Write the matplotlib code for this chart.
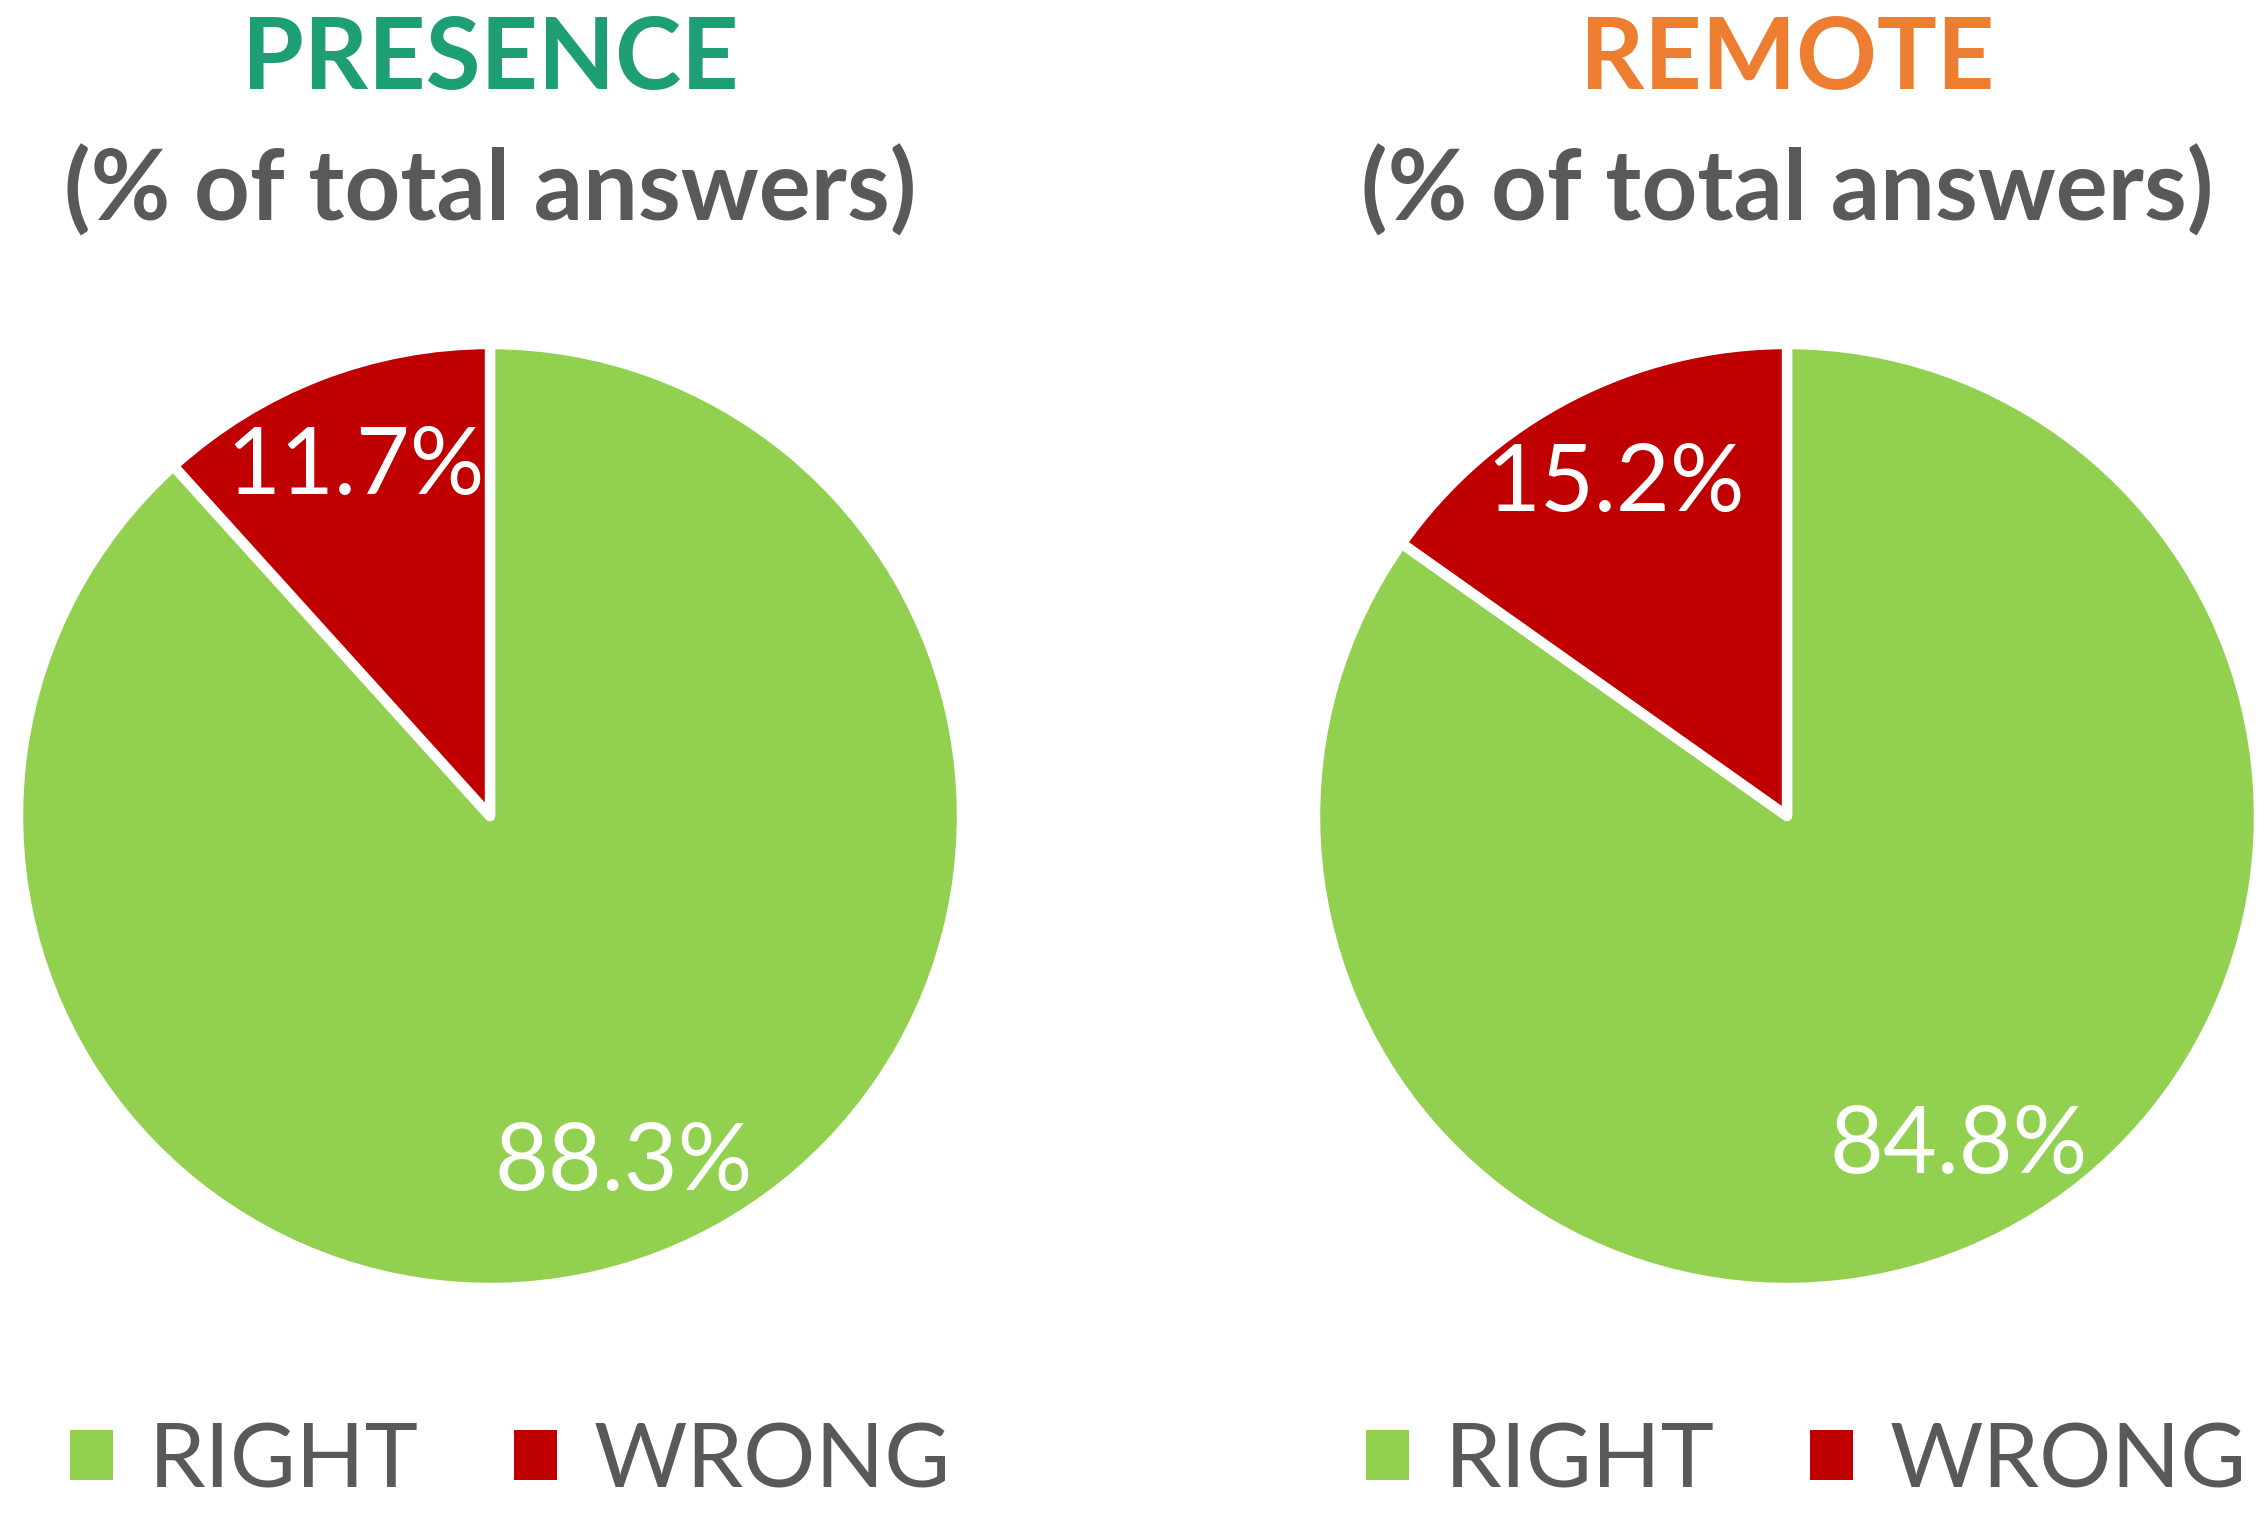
"""Two pie charts: right vs wrong answers, presence vs remote."""
import matplotlib
matplotlib.use("Agg")
import matplotlib.pyplot as plt
from matplotlib.patches import Patch

plt.rcParams["font.family"] = ["Lato", "DejaVu Sans"]

groups = ["PRESENCE", "REMOTE"]
group_colors = ["#1D9E75", "#ED7D31"]
categories = ["RIGHT", "WRONG"]
cat_colors = ["#92D050", "#C00000"]
values = {
    "PRESENCE": [88.3, 11.7],
    "REMOTE": [84.8, 15.2],
}
subtitle = "(% of total answers)"
GRAY = "#595959"

W, H, DPI = 2266, 1514, 100
fig = plt.figure(figsize=(W / DPI, H / DPI), dpi=DPI)

centres = [(490, 816), (1787, 816)]
radius = 472
legend_x = [510, 1806]

for i, g in enumerate(groups):
    cx, cy = centres[i]
    ax = fig.add_axes([(cx - radius) / W, 1 - (cy + radius) / H,
                       2 * radius / W, 2 * radius / H])
    wedges, _, autotexts = ax.pie(
        values[g], colors=cat_colors, startangle=90, counterclock=False,
        autopct="%.1f%%", pctdistance=0.79,
        wedgeprops=dict(edgecolor="white", linewidth=7.5, joinstyle="round"),
        textprops=dict(color="white", fontsize=67))
    ax.set_xlim(-1, 1); ax.set_ylim(-1, 1)
    ax.set_aspect("equal")

    fig.text(cx / W, 1 - 60 / H, g, ha="center", va="center",
             fontsize=72, fontweight="bold", color=group_colors[i])
    fig.text(cx / W, 1 - 190 / H, subtitle, ha="center", va="center",
             fontsize=70, fontweight="bold", color=GRAY)

    handles = [Patch(facecolor=c, edgecolor="none") for c in cat_colors]
    fig.legend(handles, categories, loc="center",
               bbox_to_anchor=(legend_x[i] / W, 1 - 1462 / H),
               bbox_transform=fig.transFigure, ncol=2, frameon=False,
               fontsize=65, labelcolor=GRAY, handlelength=0.48,
               handleheight=0.48, handletextpad=0.4, columnspacing=1.05)

fig.savefig("out.png", dpi=DPI, facecolor="white")
